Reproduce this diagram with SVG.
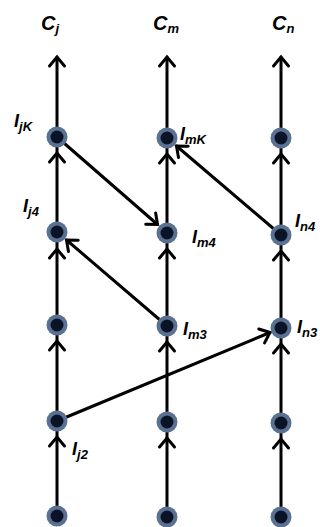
<svg xmlns="http://www.w3.org/2000/svg" width="320" height="527" viewBox="0 0 320 527">
<style>
.ln{stroke:#000;stroke-width:3;fill:none;stroke-linecap:round}
.v{marker-mid:url(#ah)}
.d{marker-end:url(#ah)}
.t{marker-end:url(#ah)}
.halo{fill:#5b7192}
.core{fill:#0b1427}
.lbl{font-family:"Liberation Sans",Arial,sans-serif;font-style:italic;font-weight:bold;fill:#000}
.c{font-size:20px}
.i{font-size:18px}
.s{font-size:13px}
</style>
<defs>
<marker id="ah" markerUnits="userSpaceOnUse" markerWidth="20" markerHeight="20" refX="0" refY="0" orient="auto" overflow="visible" viewBox="-10 -10 20 20">
<path d="M-9,-7.5 L0,0 L-9,7.5" fill="none" stroke="#000" stroke-width="3" stroke-linecap="round" stroke-linejoin="miter"/>
</marker>
</defs>
<g id="connectors">
<path class="ln t" d="M57,137 L57,57"/>
<path class="ln v" d="M57,232 L57,153 L57,137"/>
<path class="ln v" d="M57,325 L57,249 L57,232"/>
<path class="ln v" d="M57,421 L57,341 L57,325"/>
<path class="ln v" d="M57,516 L57,437 L57,421"/>
<path class="ln t" d="M167,138 L167,57"/>
<path class="ln v" d="M167,233 L167,154 L167,138"/>
<path class="ln v" d="M167,326 L167,249 L167,233"/>
<path class="ln v" d="M167,422 L167,342 L167,326"/>
<path class="ln v" d="M167,517 L167,438 L167,422"/>
<path class="ln t" d="M281,138 L281,57"/>
<path class="ln v" d="M281,235 L281,154 L281,138"/>
<path class="ln v" d="M281,328 L281,251 L281,235"/>
<path class="ln v" d="M281,423 L281,344 L281,328"/>
<path class="ln v" d="M281,517 L281,439 L281,423"/>
<path class="ln d" d="M57,137 L157.5,224.5"/>
<path class="ln d" d="M281,235 L176.5,146"/>
<path class="ln d" d="M167,326 L66.5,240"/>
<path class="ln d" d="M57,421 L270,332.5"/>
</g>
<g id="node-j1"><circle class="halo" cx="57" cy="137" r="10.5"/><circle class="core" cx="57" cy="137" r="6.5"/></g>
<g id="node-j2"><circle class="halo" cx="57" cy="232" r="10.5"/><circle class="core" cx="57" cy="232" r="6.5"/></g>
<g id="node-j3"><circle class="halo" cx="57" cy="325" r="10.5"/><circle class="core" cx="57" cy="325" r="6.5"/></g>
<g id="node-j4"><circle class="halo" cx="57" cy="421" r="10.5"/><circle class="core" cx="57" cy="421" r="6.5"/></g>
<g id="node-j5"><circle class="halo" cx="57" cy="516" r="10.5"/><circle class="core" cx="57" cy="516" r="6.5"/></g>
<g id="node-m1"><circle class="halo" cx="167" cy="138" r="10.5"/><circle class="core" cx="167" cy="138" r="6.5"/></g>
<g id="node-m2"><circle class="halo" cx="167" cy="233" r="10.5"/><circle class="core" cx="167" cy="233" r="6.5"/></g>
<g id="node-m3"><circle class="halo" cx="167" cy="326" r="10.5"/><circle class="core" cx="167" cy="326" r="6.5"/></g>
<g id="node-m4"><circle class="halo" cx="167" cy="422" r="10.5"/><circle class="core" cx="167" cy="422" r="6.5"/></g>
<g id="node-m5"><circle class="halo" cx="167" cy="517" r="10.5"/><circle class="core" cx="167" cy="517" r="6.5"/></g>
<g id="node-n1"><circle class="halo" cx="281" cy="138" r="10.5"/><circle class="core" cx="281" cy="138" r="6.5"/></g>
<g id="node-n2"><circle class="halo" cx="281" cy="235" r="10.5"/><circle class="core" cx="281" cy="235" r="6.5"/></g>
<g id="node-n3"><circle class="halo" cx="281" cy="328" r="10.5"/><circle class="core" cx="281" cy="328" r="6.5"/></g>
<g id="node-n4"><circle class="halo" cx="281" cy="423" r="10.5"/><circle class="core" cx="281" cy="423" r="6.5"/></g>
<g id="node-n5"><circle class="halo" cx="281" cy="517" r="10.5"/><circle class="core" cx="281" cy="517" r="6.5"/></g>
<g id="labels">
<text class="lbl c" x="41" y="30">C<tspan class="s" dy="3">j</tspan></text>
<text class="lbl c" x="153" y="30">C<tspan class="s" dy="3">m</tspan></text>
<text class="lbl c" x="272" y="30">C<tspan class="s" dy="3">n</tspan></text>
<text class="lbl i" x="14" y="127">I<tspan class="s" dy="4">jK</tspan></text>
<text class="lbl i" x="180" y="140">I<tspan class="s" dy="4">mK</tspan></text>
<text class="lbl i" x="23" y="212">I<tspan class="s" dy="4">j4</tspan></text>
<text class="lbl i" x="192" y="243">I<tspan class="s" dy="4">m4</tspan></text>
<text class="lbl i" x="295" y="227">I<tspan class="s" dy="4">n4</tspan></text>
<text class="lbl i" x="183" y="335">I<tspan class="s" dy="4">m3</tspan></text>
<text class="lbl i" x="297" y="333">I<tspan class="s" dy="4">n3</tspan></text>
<text class="lbl i" x="72" y="455">I<tspan class="s" dy="4">j2</tspan></text>
</g>
</svg>
